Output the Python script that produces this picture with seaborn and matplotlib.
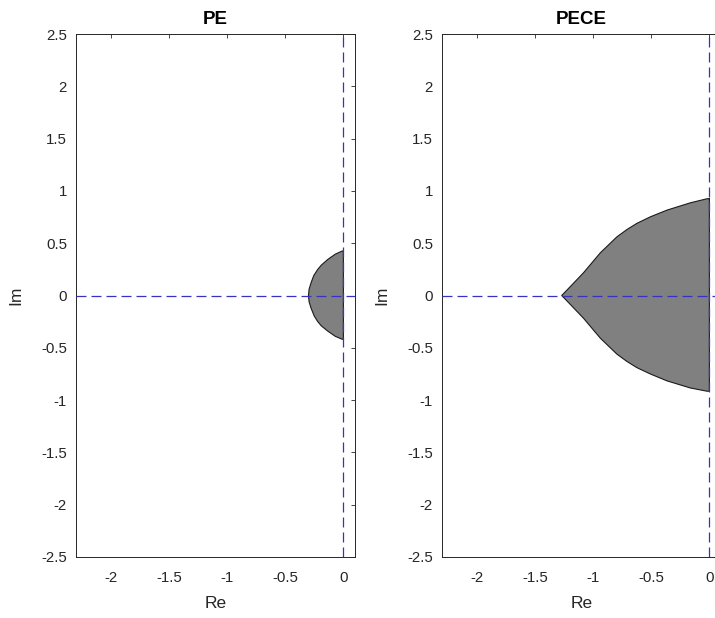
import matplotlib
matplotlib.use("Agg")
import matplotlib.pyplot as plt
import seaborn as sns
import pandas as pd

# ---- data ----
titles = ["PE", "PECE"]

pe_re = [0.0, -0.011, -0.07, -0.135, -0.19, -0.221, -0.255, -0.278, -0.295, -0.30,
         -0.295, -0.278, -0.25, -0.221, -0.19, -0.135, -0.07, -0.011, 0.0, 0.0]
pe_im = [0.425, 0.425, 0.395, 0.344, 0.29, 0.249, 0.19, 0.121, 0.06, 0.0,
         -0.06, -0.121, -0.198, -0.249, -0.29, -0.34, -0.39, -0.418, -0.418, 0.425]

pece_re = [0.0, -0.02, -0.164, -0.365, -0.508, -0.623, -0.71, -0.796, -0.938, -1.083, -1.2, -1.27,
           -1.2, -1.083, -0.938, -0.796, -0.71, -0.623, -0.508, -0.365, -0.164, -0.02, 0.0, 0.0]
pece_im = [0.925, 0.925, 0.886, 0.816, 0.752, 0.690, 0.630, 0.560, 0.408, 0.217, 0.081, 0.0,
           -0.081, -0.217, -0.408, -0.560, -0.630, -0.690, -0.750, -0.816, -0.884, -0.915, -0.915, 0.925]

x_ticks = [-2, -1.5, -1, -0.5, 0]
x_ticklabels = ["-2", "-1.5", "-1", "-0.5", "0"]
y_ticks = [-2.5, -2, -1.5, -1, -0.5, 0, 0.5, 1, 1.5, 2, 2.5]
y_ticklabels = ["-2.5", "-2", "-1.5", "-1", "-0.5", "0", "0.5", "1", "1.5", "2", "2.5"]
x_lim = (-2.3, 0.1)
y_lim = (-2.5, 2.5)

sns.set_style("white")
plt.rcParams["font.family"] = ["Liberation Sans", "DejaVu Sans"]

fig = plt.figure(figsize=(7.15, 6.18), dpi=100)
W, H = 715, 618
ax_w = 279 / W
ax_h = 523 / H
bottom = 1 - 557 / H
axes = [fig.add_axes([76 / W, bottom, ax_w, ax_h]),
        fig.add_axes([442 / W, bottom, ax_w, ax_h])]

regions = [(pe_re, pe_im), (pece_re, pece_im)]
line_col = "#3434c0"
txt_col = "#262626"

for ax, title, (re, im) in zip(axes, titles, regions):
    df = pd.DataFrame({"Re": re, "Im": im})
    ax.fill(df["Re"], df["Im"], color="#808080", lw=0, zorder=1)
    sns.lineplot(data=df, x="Re", y="Im", sort=False, estimator=None,
                 color="#1a1a1a", lw=0.8, ax=ax, zorder=2)
    ax.axhline(0, color=line_col, lw=0.9, ls=(0, (8, 4)), zorder=3)
    ax.axvline(0, color=line_col, lw=0.9, ls=(0, (8, 4)), zorder=3)
    ax.set_xlim(*x_lim)
    ax.set_ylim(*y_lim)
    ax.set_xticks(x_ticks)
    ax.set_xticklabels(x_ticklabels)
    ax.set_yticks(y_ticks)
    ax.set_yticklabels(y_ticklabels)
    ax.tick_params(direction="in", length=3, width=0.6, colors=txt_col,
                   labelsize=10.8, top=True, right=True)
    ax.tick_params(axis="y", pad=6.5)
    ax.tick_params(axis="x", pad=10)
    for s in ax.spines.values():
        s.set_visible(True)
        s.set_color(txt_col)
        s.set_linewidth(0.7)
    ax.set_title(title, fontsize=13.5, fontweight="bold", pad=7, color="black")
    ax.set_xlabel("Re", fontsize=12.5, color=txt_col)
    ax.set_ylabel("Im", fontsize=12.5, color=txt_col)
    ax.xaxis.set_label_coords(0.5, -0.074)
    ax.yaxis.set_label_coords(-0.19, 0.5)

fig.savefig("out.png", dpi=100)
